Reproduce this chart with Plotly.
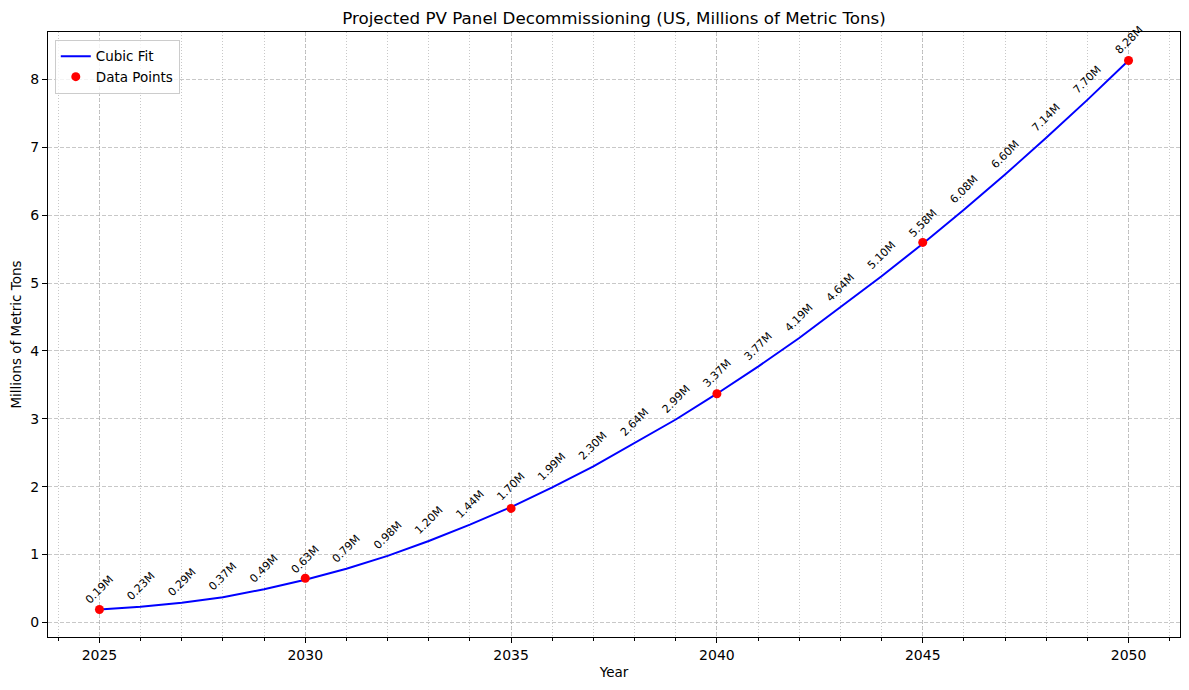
import plotly.graph_objects as go

# yearly values of the cubic fit (also used for the labels)
years = list(range(2025, 2051))
fit_vals = [0.19, 0.23, 0.29, 0.37, 0.49, 0.63, 0.79, 0.98, 1.20, 1.44,
            1.70, 1.99, 2.30, 2.64, 2.99, 3.37, 3.77, 4.19, 4.64, 5.10,
            5.58, 6.08, 6.60, 7.14, 7.70, 8.28]

# the measured points
point_years = [2025, 2030, 2035, 2040, 2045, 2050]
point_vals = [0.19, 0.65, 1.68, 3.37, 5.60, 8.28]

FONT = "DejaVu Sans"
grid_col = "rgba(176,176,176,0.7)"

# page body has an 8px margin, so the figure is a bit smaller than the window
W, H = 1181, 682

fig = go.Figure()
fig.add_trace(go.Scatter(
    x=years, y=fit_vals, mode="lines", name="Cubic Fit",
    line=dict(color="#0000ff", width=2)
))
fig.add_trace(go.Scatter(
    x=point_years, y=point_vals, mode="markers", name="Data Points",
    marker=dict(color="#ff0000", size=9)
))

for yr, v in zip(years, fit_vals):
    fig.add_annotation(
        x=yr, y=v, text=f"{v:.2f}M", showarrow=False,
        textangle=-45, xanchor="center", yanchor="bottom", yshift=1,
        font=dict(family=FONT, size=11, color="black")
    )

fig.update_layout(
    width=W, height=H,
    margin=dict(l=40, r=9, t=24, b=53),
    paper_bgcolor="white", plot_bgcolor="white",
    font=dict(family=FONT, size=14, color="black"),
    title=dict(text="Projected PV Panel Decommissioning (US, Millions of Metric Tons)",
               x=0.5, xref="paper", y=1 - 10 / H, yref="container",
               yanchor="middle", font=dict(size=16.7)),
    legend=dict(x=0.006, y=0.987, xanchor="left", yanchor="top",
                bgcolor="rgba(255,255,255,0.8)", bordercolor="#cccccc",
                borderwidth=1, font=dict(size=13.5)),
    showlegend=True,
)

fig.update_xaxes(
    automargin=False,
    range=[2023.75, 2051.25], tickmode="array",
    tickvals=[2025, 2030, 2035, 2040, 2045, 2050],
    ticks="outside", ticklen=5, tickcolor="black",
    showline=True, linecolor="black", linewidth=1, mirror=True,
    showgrid=True, gridcolor=grid_col, griddash="4px,2px", gridwidth=1,
    zeroline=False,
    minor=dict(dtick=1, tick0=2025, ticks="outside", ticklen=3, tickcolor="black",
               showgrid=True, gridcolor=grid_col, griddash="1px,2px", gridwidth=1),
    title=dict(text="Year", font=dict(size=13.5), standoff=5),
)
fig.update_yaxes(
    automargin=False,
    range=[-0.215, 8.70], tickmode="array", tickvals=list(range(0, 9)),
    ticks="outside", ticklen=5, tickcolor="black",
    showline=True, linecolor="black", linewidth=1, mirror=True,
    showgrid=True, gridcolor=grid_col, griddash="4px,2px", gridwidth=1,
    zeroline=False,
    title=dict(text="Millions of Metric Tons", font=dict(size=13.5), standoff=8),
)

fig.write_html("out.html")
